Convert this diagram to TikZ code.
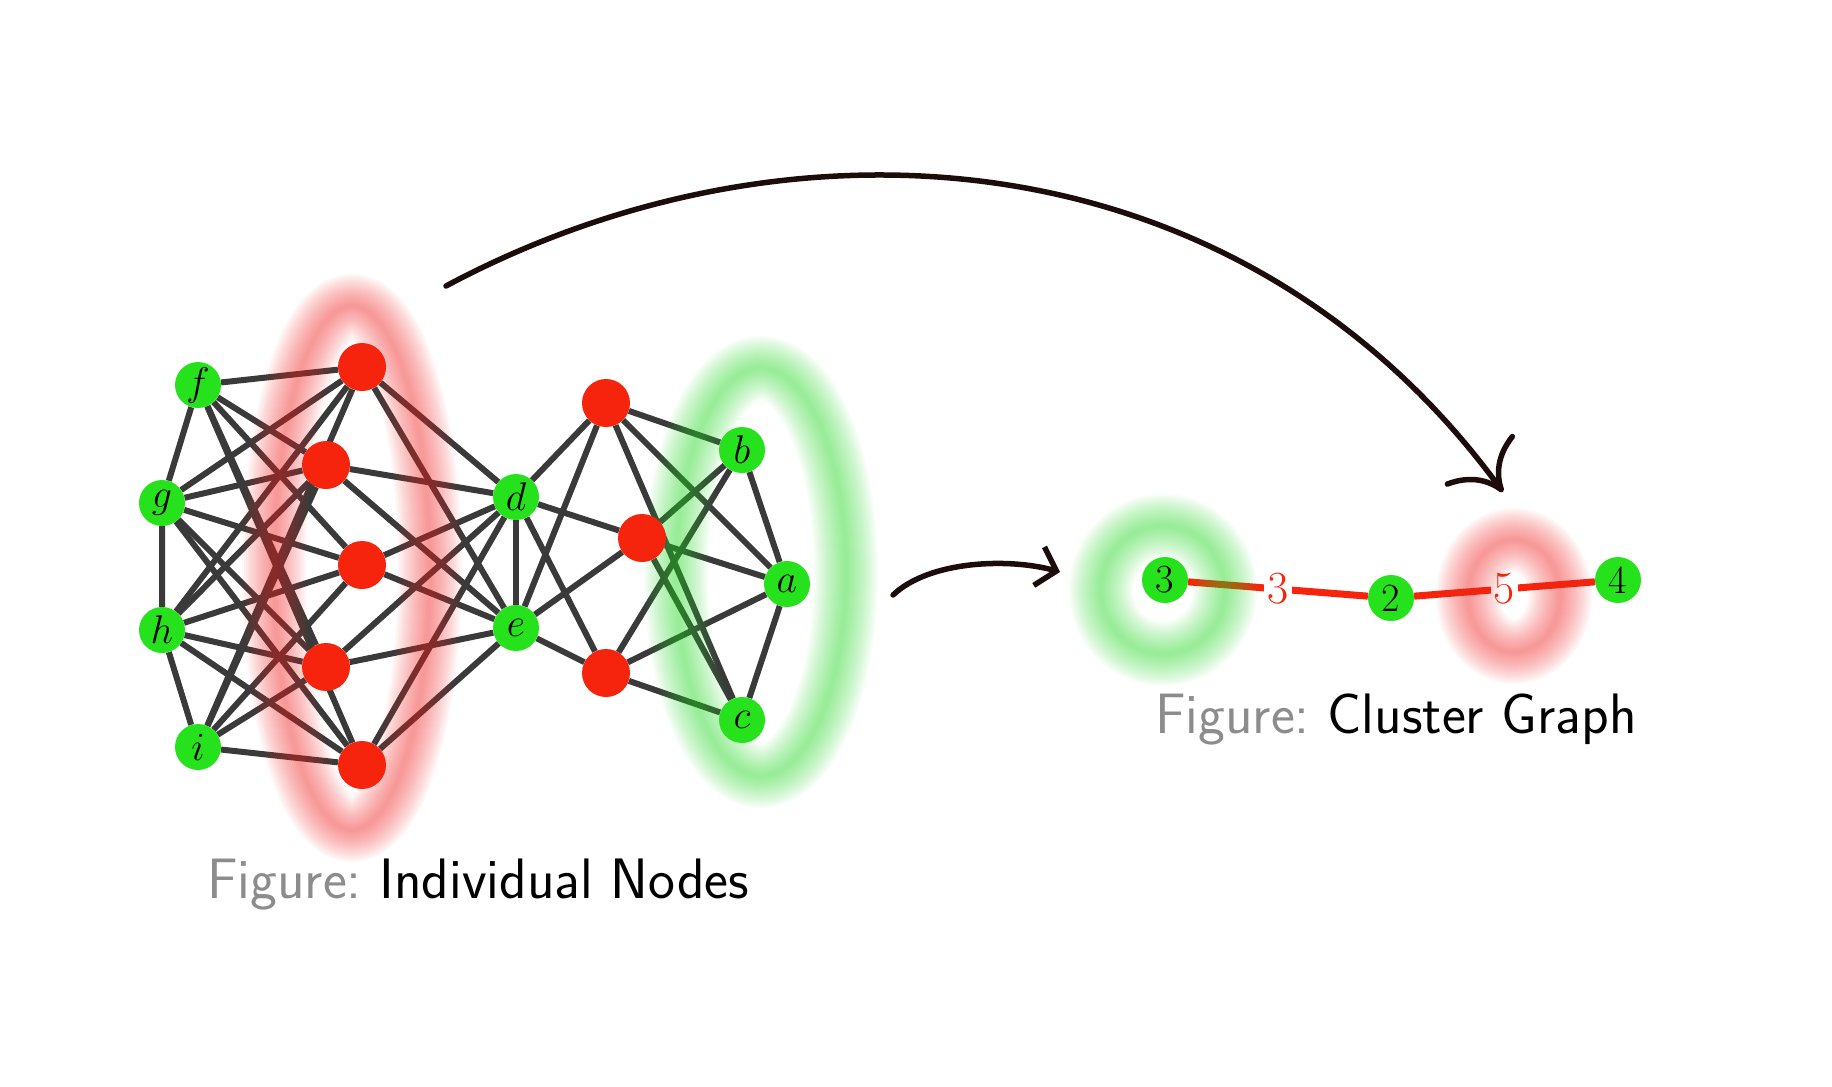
\RequirePackage{fix-cm}
\documentclass[tikz,border=0pt]{standalone}
\usepackage{xcolor}
\usetikzlibrary{arrows.meta,positioning}
\definecolor{verdeNo}{RGB}{38,226,28}
\definecolor{vermelhoNo}{RGB}{246,36,12}
\definecolor{cinzaAresta}{RGB}{58,58,58}
\definecolor{verdeHalo}{RGB}{40,215,40}
\definecolor{vermelhoHalo}{RGB}{240,40,40}
\definecolor{tinta}{RGB}{28,12,12}
\definecolor{cinzaLegenda}{RGB}{140,140,140}
\pgfdeclarelayer{arestas}
\pgfdeclarelayer{halos}
\pgfsetlayers{arestas,halos,main}
\tikzset{
    noVerde/.style={
        circle,
        fill=verdeNo,
        minimum size=46pt,
        inner sep=0pt
    },
    noVermelho/.style={circle, fill=vermelhoNo, minimum size=48pt, inner sep=0pt},
    noCluster/.style={noVerde, font=\fontsize{40}{46}\selectfont},
    aresta/.style={line width=6pt, draw=cinzaAresta},
    ligacao/.style={line width=7pt, draw=vermelhoNo},
    rotulo/.style={fill=white, text=vermelhoNo, inner sep=3pt, font=\fontsize{46}{52}\selectfont},
    legenda/.style={anchor=base west, inner sep=0pt, font=\sffamily\fontsize{57}{64}\selectfont\frenchspacing},
    seta/.style={draw=tinta, line width=5.5pt, line cap=round},
    setaGrande/.style={seta, -{Computer Modern Rightarrow[length=42pt,width=86pt]}},
    setaPequena/.style={seta, -{Straight Barb[length=18pt,width=40pt]}}
}

\begin{document}
\begin{tikzpicture}[x=1pt, y=-1pt, font=\fontsize{40}{48}\selectfont]
    \useasboundingbox (0,0) rectangle (1832,1087);

    \node[noVerde] (f) at (198,385) {$f$};
    \node[noVerde] (g) at (162,503) {$g$};
    \node[noVerde] (h) at (162,630) {$h$};
    \node[noVerde] (i) at (198,747) {$i$};
    \node[noVermelho] (r1) at (362,367) {};
    \node[noVermelho] (r2) at (326,465) {};
    \node[noVermelho] (r3) at (362,565) {};
    \node[noVermelho] (r4) at (326,667) {};
    \node[noVermelho] (r5) at (362,765) {};
    \node[noVerde] (d) at (516,497) {$d$};
    \node[noVerde] (e) at (516,628) {$e$};
    \node[noVermelho] (r6) at (606,403) {};
    \node[noVermelho] (r7) at (642,538) {};
    \node[noVermelho] (r8) at (606,673) {};
    \node[noVerde] (b) at (742,450) {$b$};
    \node[noVerde] (a) at (787,584) {$a$};
    \node[noVerde] (c) at (742,720) {$c$};

    \node[noCluster] (n3) at (1165,580) {3};
    \node[noCluster] (n2) at (1391,598) {2};
    \node[noCluster] (n4) at (1618,580) {4};

    \begin{pgfonlayer}{arestas}
        \foreach \v in {f,g,h,i}
            \foreach \n in {1,...,5}
                \draw[aresta] (\v) -- (r\n);
        \foreach \n in {1,...,5}
            \foreach \v in {d,e}
                \draw[aresta] (r\n) -- (\v);
        \foreach \n in {6,7,8}
            \foreach \v in {d,e,a,b,c}
                \draw[aresta] (r\n) -- (\v);
        \draw[aresta] (f) -- (g) -- (h) -- (i);
        \draw[aresta] (d) -- (e);
        \draw[aresta] (b) -- (a) -- (c);
        \draw[ligacao] (n3) -- node[rotulo] (p3) {3} (n2) -- node[rotulo] (p5) {5} (n4);
    \end{pgfonlayer}

    \begin{pgfonlayer}{halos}
        \foreach \cx/\cy/\rx/\ry/\cor in {352/568/78/262/vermelhoHalo, 761/572/85/204/verdeHalo,
                                          1163/590/62/64/verdeHalo, 1514/596/46/56/vermelhoHalo}
            \foreach \w in {4,8,...,64}
                \draw[\cor, opacity=0.038, line width=\w pt]
                    (\cx,\cy) ellipse [x radius=\rx pt, y radius=\ry pt];
    \end{pgfonlayer}

    \node[legenda] (legNos) at (207,898) {\textcolor{cinzaLegenda}{Figure:} Individual Nodes};
    \node[legenda] (legCluster) at (1155,733) {\textcolor{cinzaLegenda}{Figure:} Cluster Graph};

    \coordinate (saidaGrande) at (446,286);
    \coordinate (chegadaGrande) at (1503,492);
    \coordinate (saidaPequena) at (893,595);
    \coordinate (chegadaPequena) at (1060,572);
    \draw[setaGrande] (saidaGrande) .. controls (790,102) and (1240,132) .. (chegadaGrande);
    \draw[setaPequena] (saidaPequena) .. controls (930,560) and (1010,558) .. (chegadaPequena);
\end{tikzpicture}
\end{document}
